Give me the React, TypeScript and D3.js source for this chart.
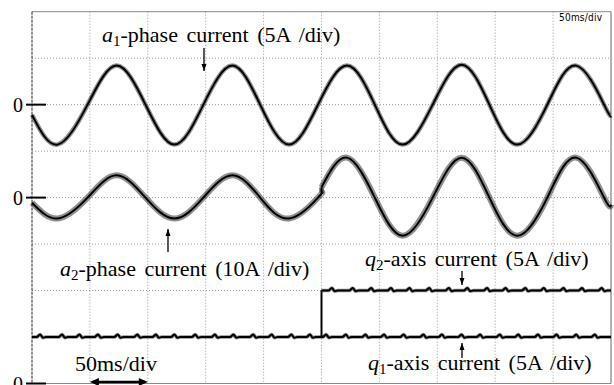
import { useEffect, useRef } from 'react'
import * as d3 from 'd3'

// time samples (ms) at quarter periods
const a1Times = [0, 22, 48, 73, 98, 123, 148, 173, 197, 222, 247, 272, 296, 320, 346, 371, 395, 419, 445, 470, 494, 500]
const a1Values = [-1.1, -4.3, 0, 4.2, 0, -4.3, 0, 4.2, 0, -4.3, 0, 4.2, 0, -4.3, 0, 4.3, 0, -4.3, 0, 4.2, 0, -1.2]

// a2 before and after the load step at 250 ms (10A/div)
const a2TimesBefore = [0, 22, 48, 73, 98, 123, 148, 173, 197, 222, 247, 250]
const a2ValuesBefore = [-1.1, -4.5, 0, 4.8, 0, -4.5, 0, 4.8, 0, -4.5, 0, 1.0]
const a2TimesAfter = [250, 272, 296, 320, 346, 371, 395, 419, 445, 470, 494, 500]
const a2ValuesAfter = [2.2, 8.6, 0, -8.2, 0, 8.6, 0, -8.2, 0, 8.6, 0, -1.5]

// q-axis currents (5A/div): levels and ripple peak times
const q1Level = 5
const q1RippleTimes = [7, 26, 41, 57, 74, 91, 107, 123, 141, 158, 174, 191, 207, 224, 240, 254, 271, 288, 304, 321, 338, 354, 371, 387, 404, 420, 437, 453, 470, 486]
const q2LevelBefore = 5
const q2LevelAfter = 10
const stepTime = 250
const q2RippleTimes = [259, 277, 293, 310, 326, 343, 360, 376, 393, 409, 426, 442, 459, 475, 492]

const W = 614
const H = 385

export default function App() {
  const svgRef = useRef<SVGSVGElement>(null)

  useEffect(() => {
    if (!svgRef.current) return
    const svg = d3.select(svgRef.current)
    svg.selectAll('*').remove()

    const left = 32
    const right = 611
    const top = 11.7
    const bottom = 383.5

    const x = d3.scaleLinear().domain([0, 500]).range([left, right])
    const yDiv = d3.scaleLinear().domain([0, 8]).range([bottom, top])

    svg.append('rect').attr('width', W).attr('height', H).attr('fill', '#fff')

    // grid
    const grid = svg.append('g')
    d3.range(1, 10).forEach((i) => {
      const gx = x(i * 50)
      grid.append('line')
        .attr('x1', gx).attr('x2', gx).attr('y1', top).attr('y2', bottom)
        .attr('stroke', '#999').attr('stroke-dasharray', '1,2')
    })
    d3.range(1, 8).forEach((i) => {
      const gy = yDiv(i)
      grid.append('line')
        .attr('x1', left).attr('x2', right).attr('y1', gy).attr('y2', gy)
        .attr('stroke', '#999').attr('stroke-dasharray', '1,2')
    })

    // frame
    svg.append('line').attr('x1', left).attr('x2', right).attr('y1', top).attr('y2', top).attr('stroke', '#888')
    svg.append('line').attr('x1', left).attr('x2', right).attr('y1', bottom).attr('y2', bottom).attr('stroke', '#888')
    svg.append('line').attr('x1', right).attr('x2', right).attr('y1', top).attr('y2', bottom).attr('stroke', '#666')
    svg.append('line').attr('x1', left).attr('x2', left).attr('y1', top).attr('y2', bottom)
      .attr('stroke', '#222').attr('stroke-dasharray', '3,1')

    const traces = svg.append('g')

    const drawTrace = (pts: [number, number][], offset: number, perDiv: number, curve: d3.CurveFactory, thick: number) => {
      const line = d3.line<[number, number]>()
        .x((d) => x(d[0]))
        .y((d) => yDiv(offset + d[1] / perDiv))
        .curve(curve)
      traces.append('path').attr('d', line(pts)).attr('fill', 'none')
        .attr('stroke', '#333').attr('stroke-width', thick).attr('stroke-opacity', 0.55)
      traces.append('path').attr('d', line(pts)).attr('fill', 'none')
        .attr('stroke', '#000').attr('stroke-width', 2)
    }

    drawTrace(a1Times.map((t, i) => [t, a1Values[i]]), 6, 5, d3.curveNatural, 4.5)
    drawTrace(a2TimesBefore.map((t, i) => [t, a2ValuesBefore[i]]), 4, 10, d3.curveNatural, 6)
    drawTrace(
      [[stepTime, a2ValuesBefore[a2ValuesBefore.length - 1]], [stepTime, a2ValuesAfter[0]]],
      4, 10, d3.curveLinear, 5
    )
    drawTrace(a2TimesAfter.map((t, i) => [t, a2ValuesAfter[i]]), 4, 10, d3.curveNatural, 6)

    const ripplePoints = (times: number[], level: number, t0: number, t1: number) => {
      const pts: [number, number][] = [[t0, level]]
      times.filter((t) => t > t0 + 3 && t < t1 - 5).forEach((t) => {
        pts.push([t - 3, level], [t, level + 0.28], [t + 2.5, level - 0.08], [t + 5, level])
      })
      pts.push([t1, level])
      return pts
    }

    drawTrace(ripplePoints(q1RippleTimes, q1Level, 0, 500), 0, 5, d3.curveMonotoneX, 3.5)
    drawTrace(
      [[stepTime, q2LevelBefore], [stepTime, q2LevelAfter]],
      0, 5, d3.curveLinear, 1
    )
    drawTrace(ripplePoints(q2RippleTimes, q2LevelAfter, stepTime, 500), 0, 5, d3.curveMonotoneX, 3.5)

    // zero markers
    const zeroDivs = [6, 4, 0]
    zeroDivs.forEach((d) => {
      const zy = yDiv(d)
      svg.append('line').attr('x1', 26).attr('x2', 46).attr('y1', zy).attr('y2', zy)
        .attr('stroke', '#000').attr('stroke-width', 2)
      svg.append('text').attr('x', 13).attr('y', zy + 7)
        .style('font-family', 'Liberation Serif').style('font-size', '20px').text('0')
    })

    const serif = 'Liberation Serif'
    const label = (lx: number, ly: number, sym: string, sub: string, rest: string) => {
      const t = svg.append('text').attr('x', lx).attr('y', ly)
        .style('font-family', serif).style('font-size', '22px').style('word-spacing', '3px')
      t.append('tspan').style('font-style', 'italic').text(sym)
      t.append('tspan').attr('dy', 4).style('font-size', '15px').text(sub)
      t.append('tspan').attr('dy', -4).text(rest)
    }
    label(102, 42, 'a', '1', '-phase current (5A /div)')
    label(60, 276, 'a', '2', '-phase current (10A /div)')
    label(365, 266, 'q', '2', '-axis current (5A /div)')
    label(368, 370, 'q', '1', '-axis current (5A /div)')

    svg.append('text').attr('x', 75).attr('y', 371)
      .style('font-family', serif).style('font-size', '22px').text('50ms/div')

    svg.append('text').attr('x', 559).attr('y', 21).attr('textLength', 43)
      .style('font-family', 'DejaVu Sans Condensed').style('font-size', '10px').text('50ms/div')

    // arrows
    const arrow = (ax: number, tailY: number, headY: number) => {
      svg.append('line').attr('x1', ax).attr('x2', ax).attr('y1', tailY).attr('y2', headY)
        .attr('stroke', '#000').attr('stroke-width', 1.3)
      const dir = headY > tailY ? 1 : -1
      svg.append('path')
        .attr('d', `M${ax},${headY} L${ax - 2.5},${headY - dir * 7} L${ax + 2.5},${headY - dir * 7} Z`)
        .attr('fill', '#000')
    }
    arrow(204, 48, 71)
    arrow(168, 252, 229)
    arrow(462, 271, 285)
    arrow(462, 358, 343)

    // 50ms/div span arrow at the bottom
    const ay = 382
    const ax1 = x(50)
    const ax2 = x(100)
    svg.append('line').attr('x1', ax1 + 3).attr('x2', ax2 - 3).attr('y1', ay).attr('y2', ay)
      .attr('stroke', '#000').attr('stroke-width', 2.5)
    svg.append('path').attr('d', `M${ax1},${ay} L${ax1 + 9},${ay - 4} L${ax1 + 9},${ay + 4} Z`).attr('fill', '#000')
    svg.append('path').attr('d', `M${ax2},${ay} L${ax2 - 9},${ay - 4} L${ax2 - 9},${ay + 4} Z`).attr('fill', '#000')
  }, [])

  return (
    <svg
      ref={svgRef}
      width={W}
      height={H}
      style={{ position: 'absolute', left: 0, top: 0, display: 'block' }}
    />
  )
}
